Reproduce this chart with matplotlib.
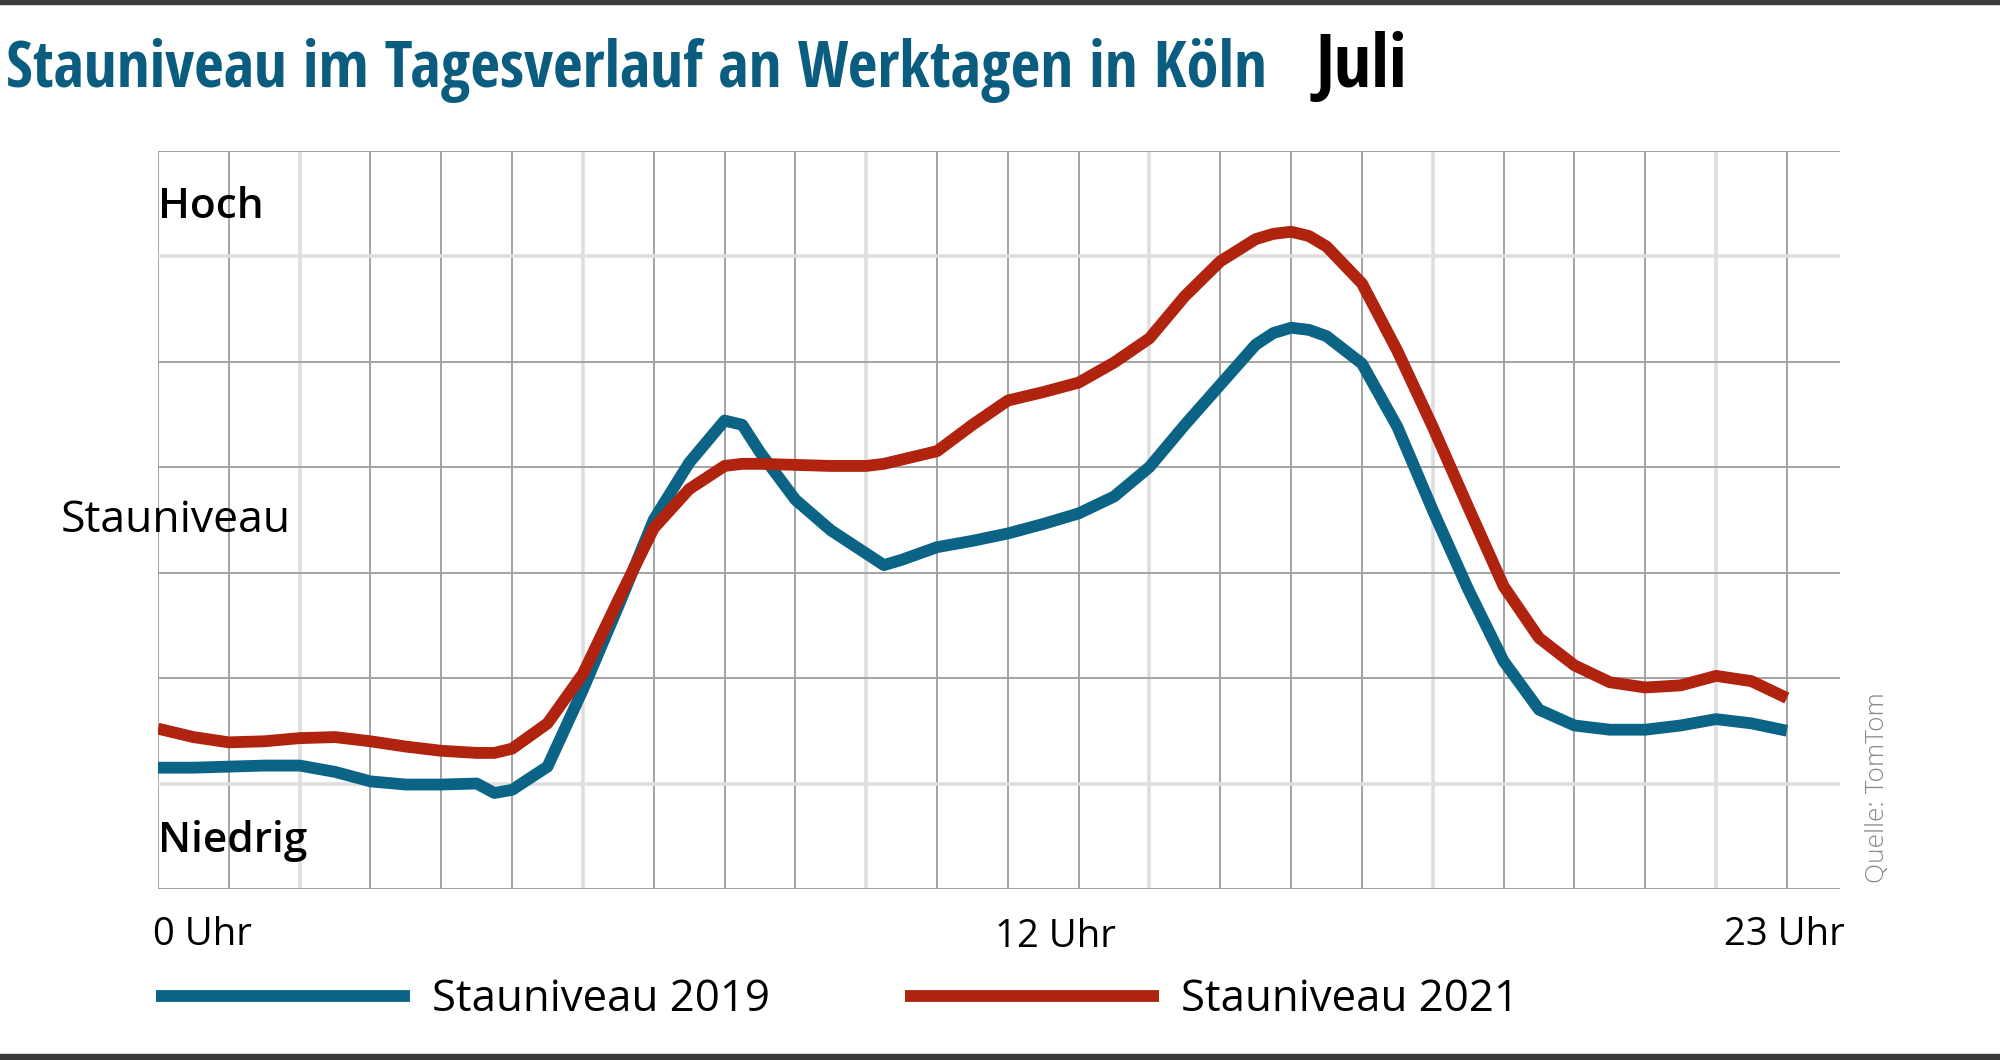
import matplotlib
matplotlib.use('Agg')
import matplotlib.pyplot as plt
from matplotlib.patches import Rectangle

plt.rcParams['font.family'] = ['Open Sans', 'DejaVu Sans']
COND = ['Open Sans Condensed', 'Open Sans', 'DejaVu Sans']

# level 0 (niedrig) .. 7 (hoch) on the grid
hours = [0, 0.5, 1, 1.5, 2, 2.5, 3, 3.5, 4, 4.5, 4.75, 5, 5.5, 6, 6.5, 7, 7.5, 8, 8.25,
         8.5, 9, 9.5, 10, 10.25, 10.5, 11, 11.5, 12, 12.5, 13, 13.5, 14, 14.5, 15, 15.5,
         15.75, 16, 16.25, 16.5, 17, 17.5, 18, 18.5, 19, 19.5, 20, 20.5, 21, 21.5, 22,
         22.5, 23]
stau_2019 = [1.15, 1.15, 1.16, 1.17, 1.17, 1.11, 1.02, 0.99, 0.99, 1.00, 0.91, 0.94, 1.16,
             1.89, 2.68, 3.50, 4.04, 4.44, 4.40, 4.14, 3.69, 3.40, 3.18, 3.07, 3.12, 3.24,
             3.30, 3.37, 3.46, 3.56, 3.72, 4.00, 4.40, 4.78, 5.16, 5.27, 5.32, 5.30, 5.24,
             4.98, 4.38, 3.59, 2.84, 2.16, 1.70, 1.55, 1.51, 1.51, 1.55, 1.61, 1.57, 1.50]
stau_2021 = [1.52, 1.44, 1.39, 1.40, 1.43, 1.44, 1.40, 1.35, 1.31, 1.29, 1.29, 1.33, 1.57,
             2.04, 2.74, 3.42, 3.79, 4.01, 4.03, 4.03, 4.02, 4.01, 4.01, 4.03, 4.07, 4.15,
             4.40, 4.63, 4.71, 4.80, 4.99, 5.22, 5.62, 5.95, 6.16, 6.21, 6.23, 6.19, 6.09,
             5.74, 5.10, 4.38, 3.62, 2.87, 2.38, 2.12, 1.96, 1.91, 1.93, 2.02, 1.97, 1.81]
labels = ['Stauniveau 2019', 'Stauniveau 2021']
hour_labels = ['0 Uhr', '12 Uhr', '23 Uhr']

TEAL = '#0b6485'
RED = '#b0230e'
W, H = 2000, 1060


def fx(x):
    return x / W


def fy(y):
    return 1 - y / H


fig = plt.figure(figsize=(20, 10.6), dpi=100)
ax = fig.add_axes([fx(158), fy(889), fx(1840 - 158), (889 - 150.5) / H])
ax.set_xlim(0, 23.75)
ax.set_ylim(0, 7)
ax.set_axis_off()

# grid; every 4th hour and two levels come out lighter in the original
for h in range(24):
    light = h % 4 == 2
    ax.axvline(h, color='#dedede' if light else '#a3a3a3', lw=2.6 if light else 1.4, zorder=1)
for lv in range(8):
    light = lv in (1, 6)
    ax.axhline(lv, color='#dedede' if light else '#a3a3a3', lw=2.6 if light else 1.4, zorder=1)

l1, = ax.plot(hours, stau_2019, color=TEAL, lw=8.5, solid_joinstyle='round',
              solid_capstyle='butt', label=labels[0], zorder=3)
l2, = ax.plot(hours, stau_2021, color=RED, lw=8.5, solid_joinstyle='round',
              solid_capstyle='butt', label=labels[1], zorder=3)

# title
fig.text(fx(6), fy(87), 'Stauniveau im Tagesverlauf an Werktagen in Köln', color='#0b5d80',
         fontsize=46.5, fontweight='bold', family=COND, va='baseline', ha='left')
fig.text(fx(1316), fy(87), 'Juli', color='black', fontsize=53, fontweight='bold',
         family=COND, va='baseline', ha='left')

# level labels
fig.text(fx(158), fy(218), 'Hoch', fontsize=30.5, fontweight='semibold', va='baseline', ha='left')
fig.text(fx(61), fy(532), 'Stauniveau', fontsize=32, va='baseline', ha='left')
fig.text(fx(158), fy(852), 'Niedrig', fontsize=30.5, fontweight='semibold', va='baseline', ha='left')

# hour labels
fig.text(fx(153), fy(945), hour_labels[0], fontsize=27.5, va='baseline', ha='left')
fig.text(fx(995), fy(947), hour_labels[1], fontsize=27.5, va='baseline', ha='left')
fig.text(fx(1845), fy(945), hour_labels[2], fontsize=27.5, va='baseline', ha='right')

fig.text(fx(1878), fy(883), 'Quelle: TomTom', rotation=90, color='#8a8a8a', fontsize=19,
         fontweight='light', ha='center', va='bottom')

fig.legend(handles=[l1, l2], loc='center left', bbox_to_anchor=(fx(156), fy(1000)),
           ncol=2, frameon=False, fontsize=31.5, handlelength=5.8, handletextpad=0.5,
           columnspacing=3.1, borderpad=0, borderaxespad=0)

# frame lines top and bottom
fig.add_artist(Rectangle((0, fy(4)), 1, 4 / H, transform=fig.transFigure, color='#3a3a3a'))
fig.add_artist(Rectangle((0, 0), 1, 6 / H, transform=fig.transFigure, color='#3a3a3a'))

fig.savefig('out.png', dpi=100)
